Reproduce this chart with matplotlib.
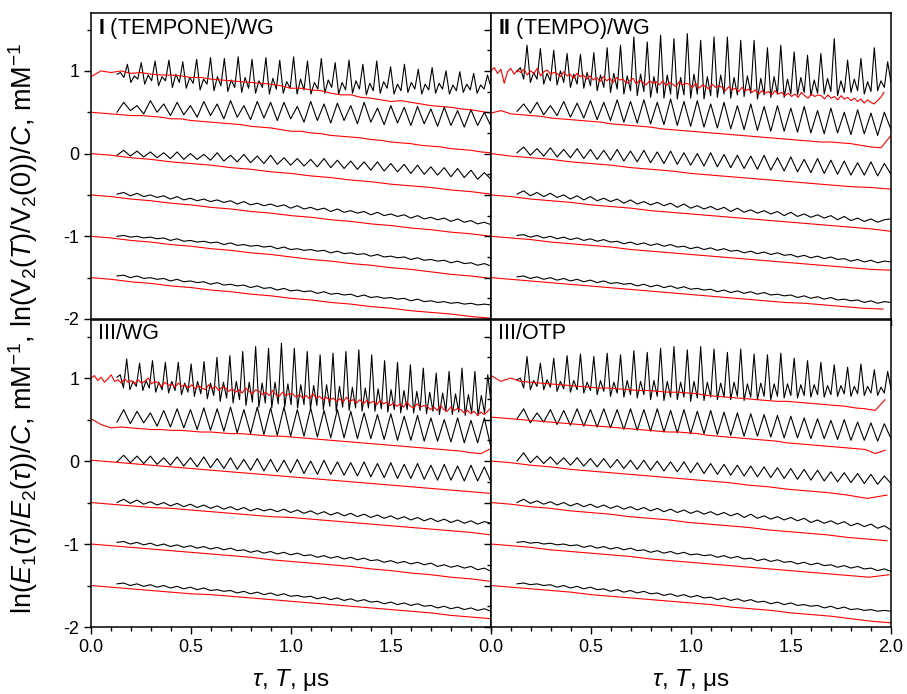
import numpy as np
import matplotlib
matplotlib.use("Agg")
import matplotlib.pyplot as plt
from matplotlib.ticker import MultipleLocator

plt.rcParams['font.family'] = ['Liberation Sans', 'DejaVu Sans']
plt.rcParams['mathtext.fontset'] = 'custom'
plt.rcParams['mathtext.rm'] = 'Liberation Sans'
plt.rcParams['mathtext.it'] = 'Liberation Sans:italic'
plt.rcParams['mathtext.bf'] = 'Liberation Sans:bold'
plt.rcParams['axes.unicode_minus'] = False

# all values in units of 0.01 mM^-1
# black: echo traces from tau = 0.13 us to 2.0 us (top trace sampled
# four times per modulation period, the others at peaks / troughs)
black_start = 0.13
black_end = 2.0

# ---- panel I (TEMPONE)/WG
black_I = [
    [96, 98, 92, 108, 86, 94, 90, 110, 84, 95, 88, 112, 82, 93, 88, 113, 80, 96, 86, 111, 79, 92, 85, 114, 77, 90, 84, 116, 76, 93, 82, 115, 75, 89, 80, 117, 74, 92, 79, 114, 73, 88, 80, 116, 72, 91, 78, 113, 73, 87, 79, 117, 72, 90, 77, 112, 72, 86, 78, 115, 73, 89, 80, 110, 72, 86, 77, 113, 73, 88, 78, 108, 71, 85, 76, 112, 73, 87, 79, 105, 72, 84, 76, 108, 74, 86, 78, 102, 72, 84, 77, 104, 73, 85, 78, 100, 72, 83, 76, 99, 74, 84, 77, 97, 73, 83, 78, 95, 80],
    [50, 62, 52, 58, 48, 64, 50, 60, 46, 62, 47, 58, 44, 63, 46, 60, 42, 64, 44, 58, 41, 63, 43, 62, 40, 62, 42, 57, 38, 63, 40, 60, 37, 61, 40, 58, 36, 62, 38, 55, 35, 58, 37, 56, 34, 57, 36, 54, 33, 56, 34, 52, 32, 53, 34, 50, 33],
    [-2, 4, -3, 3, -4, 2, -5, 1, -6, 2, -7, 0, -7, -1, -8, 1, -9, -2, -10, -1, -11, -3, -12, -2, -13, -5, -14, -6, -15, -7, -16, -6, -17, -8, -18, -9, -19, -10, -20, -10, -21, -12, -22, -13, -24, -14, -25, -16, -26, -17, -28, -18, -29, -20, -31, -23, -31],
    [-49, -47, -51, -48, -52, -50, -53, -51, -55, -52, -56, -54, -57, -55, -58, -56, -59, -57, -61, -58, -62, -60, -63, -61, -64, -62, -66, -63, -67, -65, -68, -66, -70, -67, -71, -69, -72, -70, -74, -71, -75, -73, -76, -74, -78, -75, -79, -77, -80, -78, -82, -79, -83, -81, -85, -83, -86],
    [-100, -99, -101, -100, -102, -101, -103, -102, -105, -103, -106, -105, -107, -106, -108, -107, -110, -108, -111, -110, -112, -111, -113, -112, -115, -113, -116, -115, -117, -116, -118, -117, -120, -118, -121, -120, -122, -121, -124, -122, -125, -124, -126, -125, -128, -126, -129, -128, -130, -129, -132, -130, -133, -132, -135, -133, -136],
    [-148, -147, -150, -148, -151, -150, -152, -151, -154, -152, -155, -154, -156, -155, -158, -156, -159, -158, -160, -159, -162, -160, -163, -162, -165, -163, -166, -165, -167, -166, -169, -167, -170, -169, -171, -170, -173, -171, -174, -173, -175, -174, -176, -175, -178, -176, -179, -178, -180, -179, -181, -180, -182, -181, -183, -182, -183],
]
red_I = [
    [93, 100, 98, 100, 97, 98, 96, 95, 95, 94, 92, 92, 90, 89, 88, 87, 86, 85, 84, 82, 79, 79, 77, 76, 73, 71, 71, 68, 67, 65, 63, 64, 62, 60, 58, 57, 56, 54, 53, 51, 49],
    [50, 49, 48, 47, 46, 46, 45, 44, 42, 42, 40, 39, 38, 37, 36, 35, 33, 32, 31, 29, 27, 27, 25, 24, 22, 21, 20, 19, 17, 16, 14, 13, 12, 10, 9, 8, 6, 5, 4, 2, 1],
    [0, -2, -5, -7, -10, -12, -14, -17, -19, -22, -24, -27, -29, -32, -34, -37, -39, -41, -44, -46, -49],
    [-50, -52, -55, -57, -60, -62, -65, -67, -70, -72, -75, -77, -80, -82, -85, -87, -90, -92, -95, -97, -100],
    [-100, -102, -105, -107, -110, -112, -115, -117, -120, -122, -125, -128, -130, -133, -135, -138, -140, -143, -146, -148, -151],
    [-150, -152, -155, -157, -160, -162, -165, -167, -170, -172, -175, -177, -180, -182, -185, -187, -190, -192, -194, -197, -199],
]
red_end_I = [2.0, 2.0, 2.0, 2.0, 2.0, 2.0]

# ---- panel II (TEMPO)/WG
black_II = [
    [99, 104, 90, 131, 86, 98, 90, 127, 84, 97, 88, 125, 83, 100, 86, 121, 80, 96, 84, 120, 79, 98, 82, 122, 76, 95, 80, 128, 74, 97, 78, 131, 72, 94, 76, 141, 70, 96, 75, 135, 68, 93, 73, 143, 67, 95, 72, 139, 66, 92, 71, 145, 67, 96, 72, 137, 66, 93, 70, 141, 68, 95, 72, 141, 67, 92, 71, 137, 69, 94, 73, 137, 66, 91, 71, 128, 68, 93, 72, 131, 68, 90, 72, 123, 71, 92, 74, 119, 70, 89, 73, 121, 72, 91, 75, 139, 70, 88, 74, 113, 74, 90, 76, 115, 72, 87, 75, 128, 76, 88, 80, 111, 86],
    [51, 60, 49, 62, 47, 58, 46, 63, 44, 61, 43, 64, 41, 62, 40, 65, 38, 63, 37, 65, 36, 62, 35, 66, 34, 63, 33, 64, 32, 60, 31, 62, 30, 58, 29, 60, 28, 57, 27, 58, 27, 55, 26, 57, 25, 52, 24, 55, 25, 50, 23, 53, 24, 49, 22, 50, 29],
    [1, 8, -2, 6, -3, 7, -4, 5, -5, 6, -6, 5, -7, 4, -8, 5, -9, 3, -10, 4, -11, 2, -12, 3, -13, 1, -14, 0, -15, 1, -16, -1, -17, -2, -18, -3, -19, -2, -20, -5, -21, -4, -22, -7, -23, -6, -24, -8, -25, -9, -26, -11, -26, -10, -27, -12, -25],
    [-49, -45, -51, -47, -52, -48, -53, -50, -55, -51, -56, -52, -57, -54, -58, -55, -60, -56, -61, -58, -62, -59, -63, -60, -65, -61, -66, -63, -67, -64, -68, -65, -70, -66, -71, -68, -72, -69, -73, -70, -75, -71, -76, -73, -77, -74, -78, -75, -80, -76, -81, -78, -82, -79, -83, -80, -79],
    [-99, -98, -101, -99, -102, -100, -103, -101, -104, -102, -105, -103, -106, -104, -107, -106, -109, -107, -110, -108, -111, -109, -112, -110, -113, -112, -115, -113, -116, -114, -117, -115, -118, -117, -120, -118, -121, -119, -122, -120, -123, -122, -125, -123, -126, -124, -127, -125, -128, -127, -130, -128, -131, -129, -132, -130, -131],
    [-149, -148, -151, -149, -152, -150, -153, -151, -154, -152, -155, -153, -156, -154, -157, -156, -158, -157, -160, -158, -161, -159, -162, -160, -163, -161, -164, -163, -165, -164, -167, -165, -168, -166, -169, -167, -170, -168, -171, -170, -172, -171, -174, -172, -175, -173, -176, -174, -177, -176, -178, -177, -180, -178, -181, -179, -180],
]
red_II = [
    [100, 104, 97, 102, 85, 99, 103, 96, 101, 98, 102, 95, 100, 97, 103, 94, 99, 101, 96, 98,
     97, 93, 99, 94, 96, 91, 97, 93, 95, 90, 94, 89, 92, 87, 93, 88, 91, 86, 92, 89,
     90, 85, 88, 91, 84, 89, 86, 83, 88, 85, 87, 83, 88, 82, 86, 84, 81, 87, 83, 85,
     84, 80, 85, 79, 83, 81, 78, 84, 80, 82, 80, 76, 81, 77, 79, 75, 80, 76, 78, 74,
     77, 72, 76, 73, 75, 71, 76, 72, 74, 70, 73, 69, 72, 68, 74, 70, 67, 72, 69, 71,
     70, 66, 71, 67, 69, 65, 70, 66, 68, 64, 67, 63, 66, 61, 65, 62, 60, 64, 68, 74],
    [49, 52, 48, 47, 46, 45, 43, 42, 41, 40, 39, 38, 36, 35, 34, 33, 32, 30, 29, 28, 27, 26, 25, 24, 23, 22, 21, 20, 19, 18, 17, 16, 15, 14, 14, 13, 12, 10, 8, 7, 22],
    [0, -3, -5, -7, -10, -12, -14, -17, -19, -21, -24, -26, -28, -30, -32, -34, -36, -38, -40, -41, -43],
    [-50, -52, -55, -57, -59, -62, -64, -66, -69, -71, -73, -75, -77, -79, -81, -83, -85, -87, -89, -91, -94],
    [-100, -102, -104, -107, -109, -111, -113, -116, -118, -120, -122, -124, -126, -128, -130, -132, -134, -136, -138, -140, -141],
    [-150, -152, -154, -156, -158, -160, -162, -164, -166, -168, -170, -172, -174, -176, -178, -180, -181, -183, -185, -187, -188],
]
red_end_II = [1.965, 2.0, 2.0, 2.0, 2.0, 1.96]

# ---- panel III/WG
black_III = [
    [101, 104, 88, 123, 86, 96, 90, 118, 85, 97, 88, 121, 83, 95, 86, 119, 82, 96, 85, 119, 80, 94, 83, 117, 78, 96, 81, 120, 75, 94, 79, 125, 72, 95, 76, 127, 70, 96, 74, 132, 67, 95, 71, 138, 65, 94, 70, 136, 64, 95, 69, 142, 65, 93, 68, 136, 64, 92, 68, 132, 63, 91, 67, 128, 62, 92, 66, 130, 60, 90, 65, 132, 61, 89, 64, 134, 60, 88, 64, 128, 60, 87, 63, 121, 59, 86, 62, 119, 58, 85, 62, 116, 58, 84, 61, 112, 57, 83, 60, 106, 56, 82, 60, 108, 56, 81, 59, 112, 55, 80, 58, 108, 55, 79, 58, 104, 70],
    [47, 62, 45, 60, 46, 58, 42, 61, 41, 63, 40, 62, 38, 64, 37, 63, 36, 65, 34, 62, 33, 65, 32, 64, 31, 65, 30, 62, 30, 64, 29, 61, 28, 62, 28, 60, 27, 58, 27, 56, 26, 57, 25, 54, 25, 55, 24, 52, 24, 50, 23, 52, 22, 49, 22, 52, 16],
    [-1, 7, -2, 6, -3, 6, -4, 4, -5, 5, -6, 4, -7, 5, -8, 3, -9, 4, -10, 2, -11, 3, -12, 2, -13, 1, -14, 2, -15, 0, -16, 1, -16, -1, -17, -2, -18, -1, -19, -3, -20, -2, -21, -4, -21, -3, -22, -5, -23, -4, -23, -6, -24, -5, -24, -7, -25],
    [-50, -46, -51, -47, -52, -49, -53, -50, -54, -51, -55, -52, -56, -53, -57, -54, -58, -55, -59, -56, -60, -57, -60, -58, -61, -58, -62, -59, -63, -60, -64, -61, -65, -62, -66, -63, -67, -64, -68, -65, -69, -66, -70, -67, -71, -68, -72, -69, -73, -70, -74, -71, -75, -72, -76, -73, -75],
    [-98, -97, -100, -98, -101, -99, -102, -100, -103, -101, -104, -102, -105, -103, -106, -104, -107, -105, -108, -107, -110, -108, -111, -109, -112, -110, -113, -111, -114, -113, -116, -114, -117, -115, -118, -116, -119, -117, -120, -119, -122, -120, -123, -121, -124, -122, -125, -123, -127, -125, -128, -126, -129, -127, -131, -129, -133],
    [-148, -147, -150, -148, -151, -149, -152, -150, -153, -151, -154, -152, -155, -153, -156, -155, -157, -156, -159, -157, -160, -158, -161, -159, -162, -160, -163, -162, -164, -163, -166, -164, -167, -165, -168, -166, -169, -167, -170, -169, -172, -170, -173, -171, -174, -172, -175, -174, -177, -175, -178, -176, -179, -177, -180, -178, -181],
]
red_III = [
    [100, 103, 97, 101, 95, 99, 104, 96, 98, 94, 99, 95, 97, 93, 98, 94, 96, 100, 93, 96,
     94, 90, 95, 91, 93, 89, 94, 90, 92, 88, 92, 87, 91, 88, 86, 92, 87, 90, 85, 89,
     88, 84, 87, 83, 86, 82, 88, 84, 81, 86, 84, 80, 83, 79, 85, 80, 78, 83, 79, 81,
     81, 77, 80, 76, 79, 75, 81, 76, 78, 74, 77, 73, 76, 72, 75, 71, 77, 72, 74, 70,
     74, 69, 73, 70, 72, 68, 73, 69, 71, 67, 70, 66, 69, 65, 71, 66, 64, 69, 65, 67,
     66, 62, 65, 61, 67, 62, 60, 65, 61, 63, 62, 58, 61, 57, 60, 55, 59, 56, 60, 64],
    [51, 44, 40, 41, 40, 39, 38, 38, 37, 37, 36, 35, 35, 34, 33, 33, 32, 31, 30, 30, 29, 28, 27, 26, 25, 24, 23, 22, 21, 20, 19, 18, 17, 16, 15, 14, 13, 12, 10, 9, 15],
    [1, -1, -3, -5, -7, -9, -11, -13, -15, -17, -19, -21, -23, -25, -27, -29, -31, -33, -35, -37, -39],
    [-50, -52, -54, -56, -57, -59, -61, -63, -65, -67, -68, -70, -72, -74, -76, -78, -80, -82, -84, -86, -89],
    [-100, -102, -104, -106, -108, -110, -112, -114, -116, -119, -121, -123, -125, -127, -130, -132, -135, -137, -140, -142, -145],
    [-150, -152, -154, -156, -158, -160, -161, -163, -165, -167, -169, -171, -173, -175, -177, -179, -181, -183, -186, -188, -190],
]
red_end_III = [2.0, 2.0, 2.0, 2.0, 2.0, 2.0]

# ---- panel III/OTP
black_IV = [
    [98, 100, 88, 126, 86, 97, 90, 118, 86, 98, 89, 124, 84, 96, 87, 127, 83, 97, 86, 129, 82, 95, 85, 126, 80, 97, 84, 130, 78, 95, 82, 128, 77, 97, 80, 133, 76, 96, 80, 131, 74, 97, 78, 136, 73, 96, 77, 138, 74, 95, 77, 134, 72, 96, 76, 138, 73, 95, 77, 135, 74, 94, 77, 131, 74, 95, 78, 135, 73, 93, 77, 129, 74, 94, 78, 128, 74, 93, 78, 130, 76, 93, 79, 124, 76, 92, 79, 121, 77, 92, 80, 119, 77, 91, 80, 116, 78, 91, 81, 113, 78, 90, 81, 117, 79, 90, 82, 110, 79, 89, 82, 108, 87],
    [51, 63, 46, 58, 47, 62, 44, 61, 43, 63, 42, 62, 41, 63, 40, 62, 38, 63, 37, 62, 36, 63, 35, 61, 34, 62, 33, 60, 33, 61, 32, 59, 31, 58, 30, 57, 30, 56, 29, 55, 28, 54, 28, 52, 27, 51, 27, 49, 26, 50, 25, 47, 25, 46, 24, 45, 27],
    [0, 10, -2, 6, -3, 5, -4, 4, -5, 4, -6, 3, -7, 3, -8, 2, -9, 1, -10, 1, -11, 0, -12, -1, -13, -1, -14, -2, -15, -3, -16, -4, -17, -5, -18, -6, -19, -7, -20, -8, -21, -9, -22, -10, -23, -11, -24, -13, -25, -14, -26, -15, -27, -16, -28, -18, -27],
    [-50, -46, -51, -48, -52, -49, -53, -50, -54, -51, -55, -52, -56, -53, -57, -54, -58, -55, -59, -56, -60, -57, -61, -58, -62, -59, -63, -60, -64, -61, -65, -62, -66, -63, -68, -64, -69, -66, -70, -67, -71, -68, -72, -69, -74, -71, -75, -72, -76, -73, -78, -75, -79, -76, -81, -78, -83],
    [-98, -97, -99, -98, -100, -99, -101, -100, -102, -101, -104, -102, -105, -103, -106, -104, -107, -105, -108, -107, -110, -108, -111, -109, -112, -110, -113, -112, -114, -113, -116, -114, -117, -115, -118, -117, -120, -118, -121, -119, -122, -121, -124, -122, -125, -123, -126, -125, -128, -126, -129, -127, -130, -129, -132, -130, -133],
    [-148, -147, -149, -148, -150, -149, -152, -150, -153, -151, -154, -152, -155, -154, -157, -155, -158, -156, -159, -157, -160, -159, -162, -160, -163, -161, -164, -162, -165, -164, -167, -165, -168, -166, -169, -167, -170, -169, -172, -170, -173, -171, -174, -173, -175, -174, -177, -175, -178, -176, -179, -178, -180, -179, -181, -180, -181],
]
red_IV = [
    [103, 96, 100, 96, 95, 94, 93, 92, 91, 90, 89, 88, 88, 87, 86, 85, 85, 84, 83, 83, 82, 81, 79, 78, 77, 76, 75, 74, 73, 72, 72, 71, 70, 69, 68, 67, 66, 64, 63, 61, 74],
    [53, 52, 51, 50, 49, 48, 47, 46, 45, 44, 43, 42, 41, 40, 39, 38, 37, 36, 35, 35, 34, 33, 31, 30, 29, 28, 27, 26, 25, 24, 22, 21, 20, 19, 18, 17, 16, 15, 14, 9, 13],
    [0, -2, -5, -7, -10, -12, -14, -16, -18, -20, -22, -24, -26, -29, -31, -34, -36, -38, -41, -45, -41],
    [-50, -52, -55, -57, -60, -62, -64, -67, -69, -71, -74, -76, -78, -80, -83, -85, -87, -89, -92, -94, -96],
    [-100, -102, -104, -107, -109, -111, -113, -115, -118, -120, -122, -124, -126, -128, -130, -132, -134, -136, -138, -140, -137],
    [-150, -152, -154, -156, -158, -161, -163, -165, -167, -169, -171, -173, -176, -178, -180, -183, -185, -187, -190, -193, -195],
]
red_end_IV = [1.97, 1.97, 1.98, 1.98, 1.99, 2.0]

fig = plt.figure(figsize=(9.07, 6.94), dpi=100)

W = 400 / 907
H_top = 306 / 694
H_bot = 307 / 694
ax1 = fig.add_axes([91 / 907, 1 - 319 / 694, W, H_top])
ax2 = fig.add_axes([491 / 907, 1 - 319 / 694, W, H_top])
ax3 = fig.add_axes([91 / 907, 1 - 627 / 694, W, H_bot])
ax4 = fig.add_axes([491 / 907, 1 - 627 / 694, W, H_bot])


def draw(ax, blacks, reds, red_end):
    for y in blacks:
        x = np.linspace(black_start, black_end, len(y))
        ax.plot(x, np.array(y) / 100, color='black', lw=0.8)
    for y, e in zip(reds, red_end):
        x = np.linspace(0, e, len(y))
        ax.plot(x, np.array(y) / 100, color='red', lw=0.8)
    ax.set_xlim(0, 2.0)
    ax.set_ylim(-2, 1.7)
    ax.xaxis.set_major_locator(MultipleLocator(0.5))
    ax.xaxis.set_minor_locator(MultipleLocator(0.1))
    ax.tick_params(which='major', direction='out', length=5, width=1, labelsize=13)
    ax.tick_params(which='minor', direction='out', length=3, width=1)
    ax.tick_params(top=False, right=False, which='both')
    for s in ax.spines.values():
        s.set_linewidth(1.1)


draw(ax1, black_I, red_I, red_end_I)
draw(ax2, black_II, red_II, red_end_II)
draw(ax3, black_III, red_III, red_end_III)
draw(ax4, black_IV, red_IV, red_end_IV)

for ax in (ax1, ax3):
    ax.yaxis.set_major_locator(MultipleLocator(1))
    ax.yaxis.set_minor_locator(MultipleLocator(0.5))
for ax in (ax2, ax4):
    ax.yaxis.set_major_locator(MultipleLocator(0.5))
    ax.yaxis.set_minor_locator(MultipleLocator(0.25))
    ax.tick_params(labelleft=False)
for ax in (ax1, ax2):
    ax.tick_params(labelbottom=False)

ax3.set_xticks([0, 0.5, 1.0, 1.5])
ax3.set_xticklabels(['0.0', '0.5', '1.0', '1.5'])
ax3.xaxis.set_minor_locator(MultipleLocator(0.1))
ax4.set_xticks([0, 0.5, 1.0, 1.5, 2.0])
ax4.set_xticklabels(['0.0', '0.5', '1.0', '1.5', '2.0'])

ax1.text(0.018, 0.99, r'$\mathbf{I}$ (TEMPONE)/WG', transform=ax1.transAxes,
         ha='left', va='top', fontsize=15.5)
ax2.text(0.018, 0.99, r'$\mathbf{II}$ (TEMPO)/WG', transform=ax2.transAxes,
         ha='left', va='top', fontsize=15.5)
ax3.text(0.018, 0.99, 'III/WG', transform=ax3.transAxes,
         ha='left', va='top', fontsize=15.5)
ax4.text(0.018, 0.99, 'III/OTP', transform=ax4.transAxes,
         ha='left', va='top', fontsize=15.5)

ax3.set_xlabel(r'$\tau$, $T$, μs', fontsize=17.5, labelpad=8)
ax4.set_xlabel(r'$\tau$, $T$, μs', fontsize=17.5, labelpad=8)

fig.text(0.026, 0.527,
         r'ln($E_1$($\tau$)/$E_2$($\tau$))/$C$, mM$^{-1}$, ln(V$_2$($T$)/V$_2$(0))/$C$, mM$^{-1}$',
         rotation=90, ha='center', va='center', fontsize=19.5)

fig.savefig('out.png', dpi=100)
